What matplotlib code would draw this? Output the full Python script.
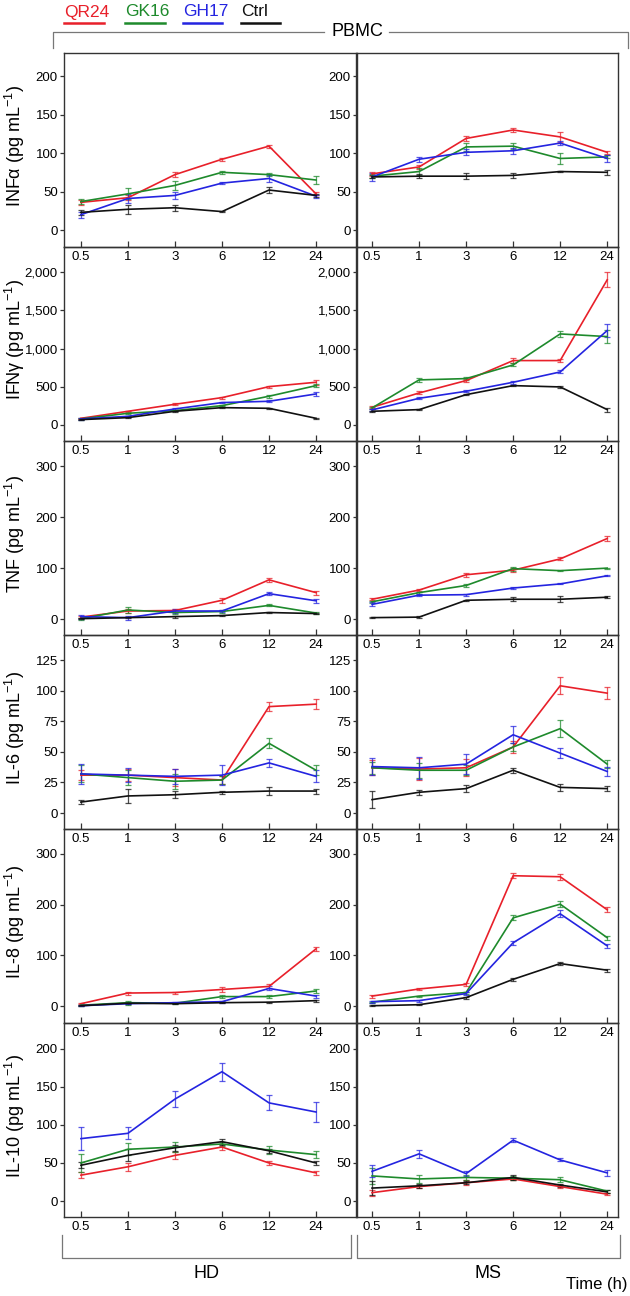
import numpy as np
import matplotlib
matplotlib.use('Agg')
import matplotlib.pyplot as plt
from matplotlib.lines import Line2D
from matplotlib.ticker import StrMethodFormatter

plt.rcParams['font.family'] = ['Liberation Sans', 'DejaVu Sans']
plt.rcParams['mathtext.fontset'] = 'custom'
plt.rcParams['mathtext.rm'] = 'Liberation Sans'
plt.rcParams['mathtext.it'] = 'Liberation Sans:italic'

# data, order of groups: QR24, GK16, GH17, Ctrl
times = ['0.5', '1', '3', '6', '12', '24']
groups = ['QR24', 'GK16', 'GH17', 'Ctrl']
colors = ['#e8202a', '#1e8a2c', '#2424e0', '#111111']

infa_hd = [[36, 42, 72, 92, 109, 47], [37, 47, 58, 75, 72, 65], [20, 41, 45, 61, 67, 44], [23, 27, 29, 24, 52, 45]]
infa_hd_err = [[3, 3, 3, 2, 2, 2], [3, 7, 6, 2, 2, 5], [4, 6, 4, 1, 4, 2], [3, 6, 4, 1, 4, 2]]
infa_ms = [[73, 82, 119, 130, 121, 101], [70, 76, 108, 109, 93, 95], [69, 92, 101, 103, 113, 93], [69, 70, 70, 71, 76, 75]]
infa_ms_err = [[3, 3, 3, 2, 6, 2], [3, 4, 5, 4, 7, 2], [5, 3, 4, 4, 3, 4], [2, 3, 4, 3, 1, 3]]

ifng_hd = [[87, 179, 271, 358, 502, 559], [79, 153, 188, 253, 376, 515], [79, 113, 210, 293, 310, 406], [70, 96, 179, 227, 218, 87]]
ifng_hd_err = [[10, 10, 10, 12, 12, 30], [10, 10, 10, 10, 20, 20], [10, 10, 10, 12, 12, 25], [8, 8, 8, 8, 8, 8]]
ifng_ms = [[231, 419, 581, 843, 843, 1900], [223, 590, 607, 786, 1192, 1157], [197, 349, 441, 559, 694, 1236], [179, 201, 397, 515, 498, 201]]
ifng_ms_err = [[15, 20, 15, 30, 25, 100], [15, 25, 20, 20, 40, 90], [15, 15, 15, 20, 20, 80], [10, 10, 10, 10, 15, 25]]

tnf_hd = [[4, 16, 17, 37, 77, 52], [1, 18, 13, 15, 27, 12], [5, 3, 16, 16, 50, 36], [1, 3, 5, 7, 13, 11]]
tnf_hd_err = [[2, 4, 3, 5, 4, 4], [2, 5, 2, 2, 2, 2], [4, 4, 4, 2, 3, 4], [1, 1, 2, 1, 1, 1]]
tnf_ms = [[39, 57, 87, 96, 118, 158], [34, 52, 66, 99, 95, 100], [29, 47, 48, 61, 69, 85], [3, 4, 37, 39, 39, 43]]
tnf_ms_err = [[2, 2, 4, 4, 3, 5], [2, 2, 3, 4, 1, 1], [4, 2, 2, 2, 1, 1], [1, 2, 1, 4, 6, 2]]

il6_hd = [[31, 31, 29, 27, 87, 89], [32, 29, 26, 27, 57, 35], [32, 31, 30, 31, 41, 30], [9, 14, 15, 17, 18, 18]]
il6_hd_err = [[4, 5, 7, 3, 4, 4], [7, 6, 6, 3, 4, 4], [8, 6, 6, 8, 3, 5], [1.5, 6, 3, 1, 3, 2]]
il6_ms = [[37, 36, 37, 54, 104, 98], [37, 35, 35, 54, 69, 40], [38, 37, 40, 64, 49, 34], [11, 17, 20, 35, 21, 20]]
il6_ms_err = [[6, 9, 7, 5, 7, 5], [5, 6, 4, 3, 7, 3], [7, 9, 8, 7, 4, 4], [7, 2, 3, 2, 3, 2]]

il8_hd = [[5, 26, 27, 33, 39, 113], [2, 7, 6, 19, 19, 30], [1, 5, 7, 9, 35, 20], [1, 6, 5, 7, 8, 11]]
il8_hd_err = [[1, 3, 2, 4, 4, 4], [1, 4, 1, 3, 3, 3], [1, 1, 1, 2, 4, 3], [1, 1, 1, 1, 1, 2]]
il8_ms = [[20, 34, 43, 257, 255, 190], [8, 20, 27, 174, 201, 135], [9, 11, 25, 125, 182, 119], [1, 3, 17, 53, 84, 71]]
il8_ms_err = [[3, 2, 3, 5, 6, 5], [1, 1, 2, 5, 6, 4], [2, 2, 3, 4, 7, 4], [1, 1, 2, 3, 3, 3]]

il10_hd = [[34, 45, 60, 71, 50, 37], [50, 68, 71, 75, 67, 61], [82, 89, 134, 170, 129, 117], [47, 60, 70, 78, 66, 50]]
il10_hd_err = [[4, 5, 5, 4, 2, 3], [12, 8, 6, 3, 5, 5], [15, 8, 10, 12, 10, 13], [4, 8, 4, 4, 3, 2]]
il10_ms = [[11, 19, 24, 29, 19, 9], [33, 29, 31, 30, 28, 13], [39, 62, 36, 80, 54, 37], [17, 20, 24, 31, 21, 12]]
il10_ms_err = [[4, 2, 3, 2, 2, 1], [10, 5, 3, 3, 3, 2], [8, 5, 3, 3, 2, 4], [9, 3, 2, 3, 2, 2]]

labels = ['INFα', 'IFNγ', 'TNF', 'IL-6', 'IL-8', 'IL-10']
ylims = [(-22, 230), (-210, 2330), (-31, 349), (-13, 145.5), (-33, 349), (-21, 234)]
yticks = [[0, 50, 100, 150, 200], [0, 500, 1000, 1500, 2000], [0, 100, 200, 300],
          [0, 25, 50, 75, 100, 125], [0, 100, 200, 300], [0, 50, 100, 150, 200]]
rows = [(infa_hd, infa_hd_err, infa_ms, infa_ms_err),
        (ifng_hd, ifng_hd_err, ifng_ms, ifng_ms_err),
        (tnf_hd, tnf_hd_err, tnf_ms, tnf_ms_err),
        (il6_hd, il6_hd_err, il6_ms, il6_ms_err),
        (il8_hd, il8_hd_err, il8_ms, il8_ms_err),
        (il10_hd, il10_hd_err, il10_ms, il10_ms_err)]

W, H = 630, 1296
fig = plt.figure(figsize=(W / 100, H / 100), dpi=100)

def fx(px):
    return px / W

def fy(py):
    return 1 - py / H

x = np.arange(len(times))
top0, rh = 53, 194
spine_c = '#333333'

for i, (hd, hd_e, ms, ms_e) in enumerate(rows):
    bottom = fy(top0 + rh * (i + 1))
    axl = fig.add_axes([fx(64), bottom, fx(292), rh / H])
    axr = fig.add_axes([fx(357), bottom, fx(261), rh / H])
    for ax, means, errs, xl in [(axl, hd, hd_e, (-0.36, 5.85)), (axr, ms, ms_e, (-0.32, 5.23))]:
        for g in range(len(groups)):
            ax.errorbar(x, means[g], yerr=errs[g], color=colors[g], lw=1.2,
                        elinewidth=0.9, capsize=2.5, capthick=0.9,
                        ecolor=matplotlib.colors.to_rgba(colors[g], 0.75))
        ax.set_xlim(*xl)
        ax.set_ylim(*ylims[i])
        ax.set_yticks(yticks[i])
        ax.yaxis.set_major_formatter(StrMethodFormatter('{x:,.0f}'))
        ax.set_xticks(x)
        ax.set_xticklabels(times)
        ax.tick_params(axis='x', direction='in', length=4, width=0.9, pad=3,
                       labelsize=9.5, color=spine_c)
        ax.tick_params(axis='y', direction='out', length=3, width=0.9, pad=1.5,
                       labelsize=9.5, color=spine_c)
        for sp in ax.spines.values():
            sp.set_linewidth(1.0)
            sp.set_color(spine_c)
        ax.patch.set_alpha(0)
    yc = fy(top0 + rh * i + rh / 2 - 4)
    fig.text(fx(15), yc, labels[i] + r' (pg mL$^{-1}$)', rotation=90,
             ha='center', va='center', fontsize=13)

# legend at top
leg_x = [(64, 104), (125, 165), (183, 222), (241, 280)]
for g, (x0, x1) in enumerate(leg_x):
    fig.text(fx(x0), fy(12), groups[g], color=colors[g], fontsize=12.5,
             ha='left', va='center')
    fig.add_artist(Line2D([fx(x0), fx(x1)], [fy(23), fy(23)], color=colors[g], lw=1.8))

# PBMC bracket
br_c = '#777777'
fig.add_artist(Line2D([fx(53), fx(53), fx(324)], [fy(48), fy(32), fy(32)], color=br_c, lw=0.9))
fig.add_artist(Line2D([fx(389), fx(628), fx(628)], [fy(32), fy(32), fy(48)], color=br_c, lw=0.9))
fig.text(fx(357), fy(32), 'PBMC', fontsize=13, ha='center', va='center')

# bottom brackets
for (x0, x1), name in [((62, 351), 'HD'), ((357, 620), 'MS')]:
    fig.add_artist(Line2D([fx(x0), fx(x0), fx(x1), fx(x1)],
                          [fy(1235), fy(1258), fy(1258), fy(1235)], color=br_c, lw=0.9))
    fig.text(fx((x0 + x1) / 2), fy(1274), name, fontsize=13, ha='center', va='center')
fig.text(fx(627), fy(1284), 'Time (h)', fontsize=12, ha='right', va='center')

fig.savefig('out.png', dpi=100)
